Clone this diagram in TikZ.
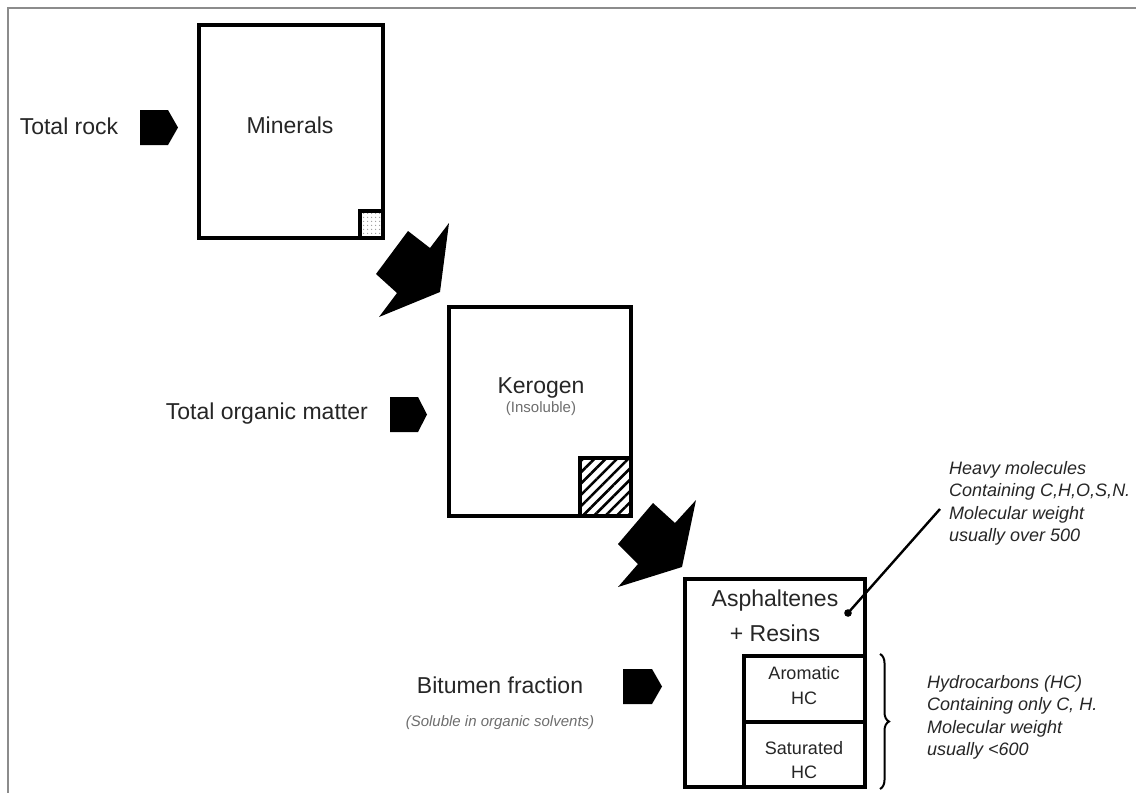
\documentclass[tikz,border=0pt]{standalone}
\usepackage{fontspec}
\setmainfont{Liberation Sans}
\usetikzlibrary{patterns,patterns.meta,decorations.pathreplacing}
\definecolor{txt}{HTML}{262626}
\definecolor{frameclr}{HTML}{8C8C8C}
\definecolor{subclr}{HTML}{6E6E6E}
\begin{document}
\begin{tikzpicture}[x=1pt,y=-1pt,
  box/.style={draw=black,line width=4pt,minimum width=#1,inner sep=0pt,outer sep=0pt},
  lbl/.style={text=txt,font=\fontsize{23}{27}\selectfont,inner sep=0pt},
  small/.style={text=txt,font=\fontsize{18}{22}\selectfont,inner sep=0pt},
  note/.style={text=txt,font=\fontsize{18}{22.5}\selectfont\itshape,align=left,inner sep=0pt,anchor=north west},
  sub/.style={text=subclr,font=\fontsize{15}{18}\selectfont,inner sep=0pt},
  blockarrow/.style={fill=black,draw=none}]
\useasboundingbox (0,0) rectangle (1136,793);
\fill[white] (0,0) rectangle (1136,793);
\draw[frameclr,line width=2pt] (8,793) -- (8,8) -- (1136,8);

% ---- Minerals ----
\node[box=184pt,minimum height=213pt] (mineralsbox) at (291,131.5) {};
\fill[pattern={Dots[distance=4pt,radius=0.8pt]},pattern color=gray!80] (360,211) rectangle (383,238);
\node[box=23pt,minimum height=27pt] (mineralsq) at (371.5,224.5) {};
\node[lbl] (minerals) at (290,125) {Minerals};
\node[lbl] (totalrock) at (69,126) {Total rock};
\fill[blockarrow] (140,110) -- (168,110) -- (178,127.5) -- (168,145) -- (140,145) -- cycle;

% ---- arrow 1 ----
\fill[blockarrow] (408,231) -- (430,248) -- (449,223) -- (440,292) -- (379,317) -- (397,293) -- (376,274) -- cycle;

% ---- Kerogen ----
\node[box=182pt,minimum height=209pt] (kerogenbox) at (540,411.5) {};
\fill[pattern={Lines[angle=45,distance=8pt,line width=2.6pt]},pattern color=black] (580,458) rectangle (631,516);
\node[box=51pt,minimum height=58pt] (kerogensq) at (605.5,487) {};
\node[lbl] (kerogen) at (541,388) {Kerogen};
\node[sub] (insoluble) at (541,409) {(Insoluble)};
\node[lbl,anchor=east] (tom) at (368,414) {Total organic matter};
\fill[blockarrow] (390,397) -- (418,397) -- (427,414.5) -- (418,432) -- (390,432) -- cycle;

% ---- arrow 2 ----
\fill[blockarrow] (653,503) -- (675,523) -- (696,500) -- (682,567) -- (618,587) -- (638,564) -- (618,544) -- cycle;

% ---- Bitumen ----
\node[box=180pt,minimum height=208pt] (bitumenbox) at (775,683) {};
\node[box=121pt,minimum height=66pt] (aromaticbox) at (804.5,689) {};
\node[box=121pt,minimum height=65pt] (saturatedbox) at (804.5,754.5) {};
\node[lbl] (asph) at (775,601) {Asphaltenes};
\node[lbl] (resins) at (775,633) {+ Resins};
\node[small] (arom) at (804,673) {Aromatic};
\node[small] (aromhc) at (804,698) {HC};
\node[small] (sat) at (804,748) {Saturated};
\node[small] (sathc) at (804,772) {HC};
\node[lbl] (bitumen) at (500,685) {Bitumen fraction};
\node[sub,font=\fontsize{15}{18}\selectfont\itshape] (soluble) at (500,723) {(Soluble in organic solvents)};
\fill[blockarrow] (623,669) -- (652,669) -- (662,686.5) -- (652,704) -- (623,704) -- cycle;

% ---- notes ----
\node[note] (heavy) at (949,461) {Heavy molecules\\Containing C,H,O,S,N.\\Molecular weight\\usually over 500};
\coordinate (dot) at (848,613);
\coordinate (leaderend) at (940,509);
\fill (dot) circle (3.8pt);
\draw[line width=2.4pt] (dot) -- (leaderend);
\node[note] (hydro) at (927,675) {Hydrocarbons (HC)\\Containing only C, H.\\Molecular weight\\usually <600};
\draw[line width=2pt,decorate,decoration={brace,amplitude=9pt}] (880,654) -- (880,789);
\end{tikzpicture}
\end{document}
